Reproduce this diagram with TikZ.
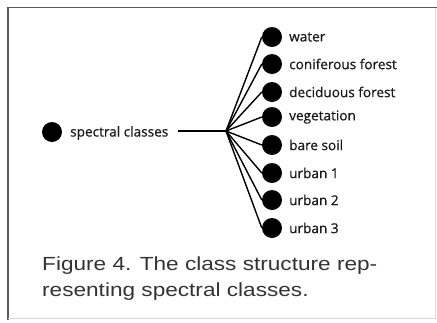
\documentclass[tikz,border=0pt]{standalone}
\usepackage{fontspec}
\setmainfont{Open Sans}
\newfontfamily\lblfont[FakeBold=0.6]{Open Sans}
\newfontfamily\capfont[FakeStretch=1.19]{Liberation Sans}
\begin{document}
\begin{tikzpicture}[x=1pt,y=-1pt,
  dot/.style={circle,fill=black,inner sep=0pt,minimum size=20pt},
  lbl/.style={anchor=west,inner sep=0pt,font=\lblfont\fontsize{13.6}{15}\selectfont,text=black!90},
  conn/.style={line width=1.4pt,black},
  frame/.style={line width=1.6pt,black!65}]
\useasboundingbox (0,0) rectangle (437,322);
\fill[white] (0,0) rectangle (437,322);
\draw[frame] (8,320) -- (8,7.5) -- (437,7.5);
\draw[line width=1pt,black!15] (435.5,8) -- (435.5,318) (8,318.5) -- (435.5,318.5);
\node[dot] (root) at (52,132) {};
\node[lbl] (rootl) at (70,133) {spectral classes};
\coordinate (hub) at (226,131);
\draw[conn] (178,131) -- (hub);
\foreach \n/\y/\t in {1/37/water,2/64/coniferous forest,3/92/deciduous forest,4/117/vegetation,5/145/bare soil,6/173/urban 1,7/200/urban 2,8/228/urban 3}{
  \node[dot] (c\n) at (272,\y) {};
  \node[lbl] (l\n) at (289,\y) {\t};
  \draw[conn] (hub) -- (c\n.west);
}
\node[anchor=north west,inner sep=0pt,align=left,font=\capfont\fontsize{19}{26}\selectfont,text=black!80] (cap) at (42,257) {Figure 4. The class structure rep-\\resenting spectral classes.};
\end{tikzpicture}
\end{document}
